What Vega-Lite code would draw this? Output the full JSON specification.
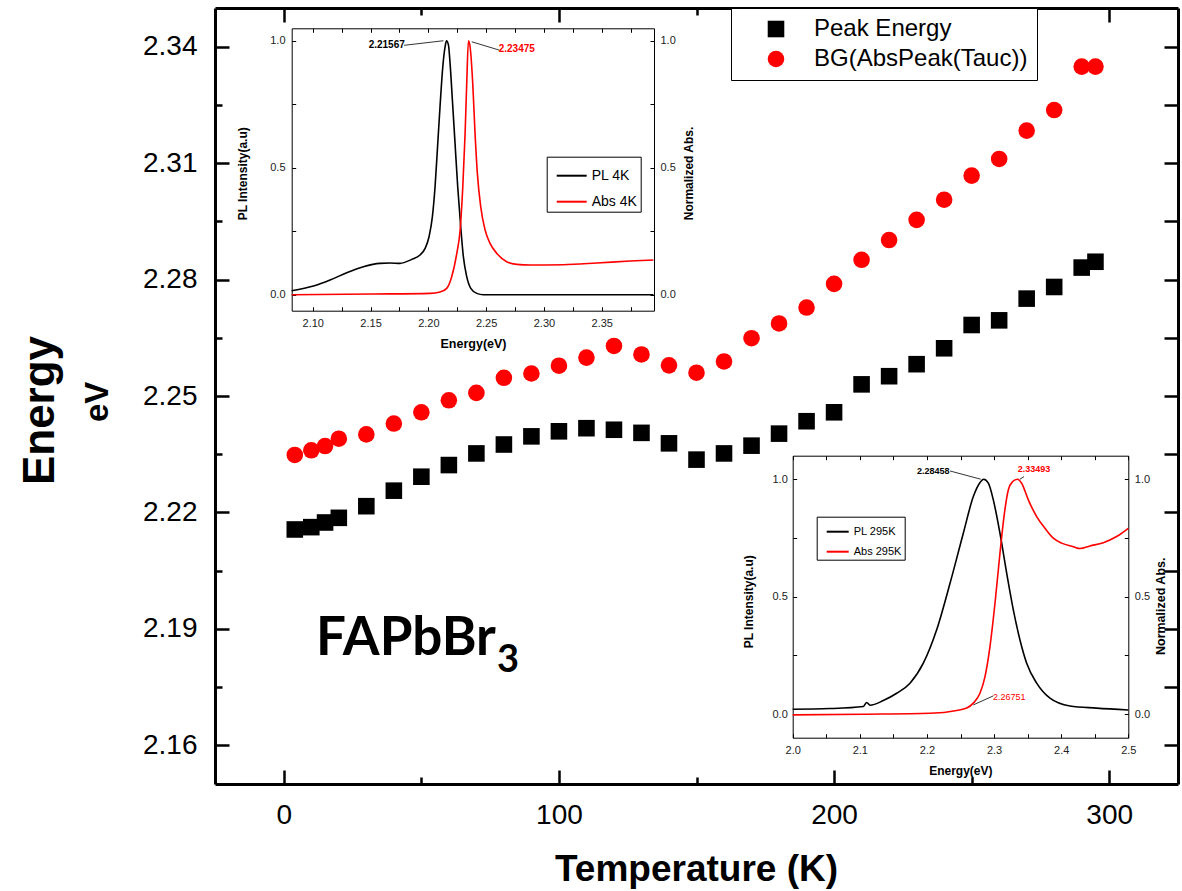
{
"$schema":"https://vega.github.io/schema/vega-lite/v6.json",
"width":963,"height":776,
"autosize":{"type":"none"},
"padding":{"left":215,"top":8,"right":4,"bottom":107},
"config":{"view":{"stroke":null},"font":"Liberation Sans","axis":{"grid":false,"labelFlush":false,"labelOverlap":false,"domainColor":"black","tickColor":"black","labelColor":"black","titleColor":"black"}},
"datasets":{
"main":[
{"series":"Peak Energy","T":4,"E":2.2156},{"series":"Peak Energy","T":10,"E":2.2162},{"series":"Peak Energy","T":15,"E":2.2174},{"series":"Peak Energy","T":20,"E":2.2186},{"series":"Peak Energy","T":30,"E":2.2216},{"series":"Peak Energy","T":40,"E":2.2256},{"series":"Peak Energy","T":50,"E":2.2292},{"series":"Peak Energy","T":60,"E":2.2322},{"series":"Peak Energy","T":70,"E":2.2352},{"series":"Peak Energy","T":80,"E":2.2375},{"series":"Peak Energy","T":90,"E":2.2396},{"series":"Peak Energy","T":100,"E":2.2409},{"series":"Peak Energy","T":110,"E":2.2417},{"series":"Peak Energy","T":120,"E":2.2413},{"series":"Peak Energy","T":130,"E":2.2405},{"series":"Peak Energy","T":140,"E":2.2378},{"series":"Peak Energy","T":150,"E":2.2336},{"series":"Peak Energy","T":160,"E":2.2352},{"series":"Peak Energy","T":170,"E":2.2372},{"series":"Peak Energy","T":180,"E":2.2403},{"series":"Peak Energy","T":190,"E":2.2435},{"series":"Peak Energy","T":200,"E":2.2458},{"series":"Peak Energy","T":210,"E":2.2530},{"series":"Peak Energy","T":220,"E":2.2551},{"series":"Peak Energy","T":230,"E":2.2582},{"series":"Peak Energy","T":240,"E":2.2623},{"series":"Peak Energy","T":250,"E":2.2683},{"series":"Peak Energy","T":260,"E":2.2695},{"series":"Peak Energy","T":270,"E":2.2751},{"series":"Peak Energy","T":280,"E":2.2781},{"series":"Peak Energy","T":290,"E":2.2831},{"series":"Peak Energy","T":295,"E":2.2846},
{"series":"BG(AbsPeak(Tauc))","T":4,"E":2.2348},{"series":"BG(AbsPeak(Tauc))","T":10,"E":2.2360},{"series":"BG(AbsPeak(Tauc))","T":15,"E":2.2371},{"series":"BG(AbsPeak(Tauc))","T":20,"E":2.2390},{"series":"BG(AbsPeak(Tauc))","T":30,"E":2.2401},{"series":"BG(AbsPeak(Tauc))","T":40,"E":2.2429},{"series":"BG(AbsPeak(Tauc))","T":50,"E":2.2458},{"series":"BG(AbsPeak(Tauc))","T":60,"E":2.2489},{"series":"BG(AbsPeak(Tauc))","T":70,"E":2.2508},{"series":"BG(AbsPeak(Tauc))","T":80,"E":2.2547},{"series":"BG(AbsPeak(Tauc))","T":90,"E":2.2558},{"series":"BG(AbsPeak(Tauc))","T":100,"E":2.2578},{"series":"BG(AbsPeak(Tauc))","T":110,"E":2.2599},{"series":"BG(AbsPeak(Tauc))","T":120,"E":2.2629},{"series":"BG(AbsPeak(Tauc))","T":130,"E":2.2607},{"series":"BG(AbsPeak(Tauc))","T":140,"E":2.2579},{"series":"BG(AbsPeak(Tauc))","T":150,"E":2.2560},{"series":"BG(AbsPeak(Tauc))","T":160,"E":2.2589},{"series":"BG(AbsPeak(Tauc))","T":170,"E":2.2649},{"series":"BG(AbsPeak(Tauc))","T":180,"E":2.2687},{"series":"BG(AbsPeak(Tauc))","T":190,"E":2.2728},{"series":"BG(AbsPeak(Tauc))","T":200,"E":2.2789},{"series":"BG(AbsPeak(Tauc))","T":210,"E":2.2851},{"series":"BG(AbsPeak(Tauc))","T":220,"E":2.2902},{"series":"BG(AbsPeak(Tauc))","T":230,"E":2.2954},{"series":"BG(AbsPeak(Tauc))","T":240,"E":2.3006},{"series":"BG(AbsPeak(Tauc))","T":250,"E":2.3068},{"series":"BG(AbsPeak(Tauc))","T":260,"E":2.3111},{"series":"BG(AbsPeak(Tauc))","T":270,"E":2.3184},{"series":"BG(AbsPeak(Tauc))","T":280,"E":2.3237},{"series":"BG(AbsPeak(Tauc))","T":290,"E":2.3349},{"series":"BG(AbsPeak(Tauc))","T":295,"E":2.3349}
],
"in1":[
{"s":"PL 4K","E":2.0818,"v":0.0157},{"s":"PL 4K","E":2.1006,"v":0.0341},{"s":"PL 4K","E":2.1150,"v":0.0577},{"s":"PL 4K","E":2.1294,"v":0.0866},{"s":"PL 4K","E":2.1438,"v":0.1102},{"s":"PL 4K","E":2.1582,"v":0.1234},{"s":"PL 4K","E":2.1669,"v":0.1247},{"s":"PL 4K","E":2.1755,"v":0.1234},{"s":"PL 4K","E":2.1856,"v":0.1391},{"s":"PL 4K","E":2.1928,"v":0.1562},{"s":"PL 4K","E":2.1972,"v":0.1824},{"s":"PL 4K","E":2.2006,"v":0.2283},{"s":"PL 4K","E":2.2035,"v":0.3071},{"s":"PL 4K","E":2.2058,"v":0.4252},{"s":"PL 4K","E":2.2078,"v":0.5696},{"s":"PL 4K","E":2.2101,"v":0.7402},{"s":"PL 4K","E":2.2125,"v":0.8976},{"s":"PL 4K","E":2.2145,"v":0.9764},{"s":"PL 4K","E":2.2157,"v":1.0},{"s":"PL 4K","E":2.2174,"v":0.9829},{"s":"PL 4K","E":2.2188,"v":0.9108},{"s":"PL 4K","E":2.2208,"v":0.7664},{"s":"PL 4K","E":2.2231,"v":0.5958},{"s":"PL 4K","E":2.2254,"v":0.4252},{"s":"PL 4K","E":2.2280,"v":0.2677},{"s":"PL 4K","E":2.2303,"v":0.1496},{"s":"PL 4K","E":2.2332,"v":0.0709},{"s":"PL 4K","E":2.2367,"v":0.0249},{"s":"PL 4K","E":2.2419,"v":0.0052},{"s":"PL 4K","E":2.2476,"v":0.0},{"s":"PL 4K","E":2.3947,"v":0.0},
{"s":"Abs 4K","E":2.0818,"v":0.0},{"s":"Abs 4K","E":2.1525,"v":0.0026},{"s":"Abs 4K","E":2.2015,"v":0.0052},{"s":"Abs 4K","E":2.2101,"v":0.0105},{"s":"Abs 4K","E":2.2159,"v":0.0249},{"s":"Abs 4K","E":2.2202,"v":0.0709},{"s":"Abs 4K","E":2.2246,"v":0.1627},{"s":"Abs 4K","E":2.2275,"v":0.2546},{"s":"Abs 4K","E":2.2298,"v":0.4252},{"s":"Abs 4K","E":2.2318,"v":0.6352},{"s":"Abs 4K","E":2.2332,"v":0.8320},{"s":"Abs 4K","E":2.2347,"v":1.0},{"s":"Abs 4K","E":2.2361,"v":0.9764},{"s":"Abs 4K","E":2.2384,"v":0.8320},{"s":"Abs 4K","E":2.2404,"v":0.6352},{"s":"Abs 4K","E":2.2424,"v":0.4777},{"s":"Abs 4K","E":2.2453,"v":0.3465},{"s":"Abs 4K","E":2.2491,"v":0.2546},{"s":"Abs 4K","E":2.2534,"v":0.2021},{"s":"Abs 4K","E":2.2592,"v":0.1627},{"s":"Abs 4K","E":2.2678,"v":0.1299},{"s":"Abs 4K","E":2.2765,"v":0.1194},{"s":"Abs 4K","E":2.2880,"v":0.1168},{"s":"Abs 4K","E":2.3168,"v":0.1181},{"s":"Abs 4K","E":2.3457,"v":0.1247},{"s":"Abs 4K","E":2.3745,"v":0.1325},{"s":"Abs 4K","E":2.3947,"v":0.1365}
],
"ann1":[
{"s":"PL 4K","label":"2.21567","tx":2.164,"ty":0.983,"E1":2.179,"v1":0.982,"E2":2.213,"v2":1.0},
{"s":"Abs 4K","label":"2.23475","tx":2.2765,"ty":0.9685,"E1":2.2375,"v1":0.996,"E2":2.2614,"v2":0.963}
],
"in2":[
{"s":"PL 295K","E":2.0,"v":0.021},{"s":"PL 295K","E":2.0556,"v":0.024},{"s":"PL 295K","E":2.1053,"v":0.033},{"s":"PL 295K","E":2.1102,"v":0.050},{"s":"PL 295K","E":2.1152,"v":0.038},{"s":"PL 295K","E":2.135,"v":0.058},{"s":"PL 295K","E":2.1549,"v":0.089},{"s":"PL 295K","E":2.1748,"v":0.132},{"s":"PL 295K","E":2.1946,"v":0.217},{"s":"PL 295K","E":2.2145,"v":0.359},{"s":"PL 295K","E":2.2344,"v":0.557},{"s":"PL 295K","E":2.2542,"v":0.770},{"s":"PL 295K","E":2.2691,"v":0.926},{"s":"PL 295K","E":2.2791,"v":0.986},{"s":"PL 295K","E":2.2846,"v":1.0},{"s":"PL 295K","E":2.2915,"v":0.983},{"s":"PL 295K","E":2.2989,"v":0.912},{"s":"PL 295K","E":2.3088,"v":0.770},{"s":"PL 295K","E":2.3188,"v":0.600},{"s":"PL 295K","E":2.3287,"v":0.444},{"s":"PL 295K","E":2.3386,"v":0.316},{"s":"PL 295K","E":2.3486,"v":0.217},{"s":"PL 295K","E":2.3635,"v":0.132},{"s":"PL 295K","E":2.3833,"v":0.068},{"s":"PL 295K","E":2.4131,"v":0.035},{"s":"PL 295K","E":2.4528,"v":0.026},{"s":"PL 295K","E":2.5,"v":0.018},
{"s":"Abs 295K","E":2.0,"v":-0.003},{"s":"Abs 295K","E":2.1053,"v":0.0},{"s":"Abs 295K","E":2.2046,"v":0.004},{"s":"Abs 295K","E":2.2443,"v":0.016},{"s":"Abs 295K","E":2.2592,"v":0.026},{"s":"Abs 295K","E":2.2691,"v":0.047},{"s":"Abs 295K","E":2.279,"v":0.089},{"s":"Abs 295K","E":2.2865,"v":0.160},{"s":"Abs 295K","E":2.2939,"v":0.288},{"s":"Abs 295K","E":2.3014,"v":0.472},{"s":"Abs 295K","E":2.3088,"v":0.685},{"s":"Abs 295K","E":2.3148,"v":0.841},{"s":"Abs 295K","E":2.3213,"v":0.955},{"s":"Abs 295K","E":2.3277,"v":0.990},{"s":"Abs 295K","E":2.3349,"v":1.0},{"s":"Abs 295K","E":2.3411,"v":0.983},{"s":"Abs 295K","E":2.351,"v":0.912},{"s":"Abs 295K","E":2.3635,"v":0.841},{"s":"Abs 295K","E":2.3759,"v":0.791},{"s":"Abs 295K","E":2.3883,"v":0.749},{"s":"Abs 295K","E":2.4007,"v":0.728},{"s":"Abs 295K","E":2.4181,"v":0.713},{"s":"Abs 295K","E":2.428,"v":0.705},{"s":"Abs 295K","E":2.4429,"v":0.716},{"s":"Abs 295K","E":2.4628,"v":0.730},{"s":"Abs 295K","E":2.4826,"v":0.756},{"s":"Abs 295K","E":2.5,"v":0.791}
],
"ann2":[
{"s":"PL 295K","label":"2.28458","tx":2.2095,"ty":1.0366,"E1":2.2344,"v1":1.035,"E2":2.2801,"v2":1.0},
{"s":"Abs 295K","label":"2.33493","tx":2.3595,"ty":1.0426,"E1":2.3387,"v1":1.0,"E2":2.3446,"v2":1.011}
],
"ann2b":[
{"s":"Abs 295K","label":"2.26751","tx":2.3227,"ty":0.0749,"E1":2.2691,"v1":0.0396,"E2":2.2989,"v2":0.078}
]
},
"layer":[
{
"layer":[
{"data":{"name":"main"},
"mark":{"type":"point","filled":true,"size":275,"opacity":1},
"encoding":{
"x":{"field":"T","type":"quantitative","scale":{"domain":[-25,325],"nice":false,"zero":false},
"axis":{"orient":"bottom","values":[0,50,100,150,200,250,300],"labelExpr":"datum.value % 100 === 0 ? format(datum.value, 'd') : ''","tickSize":{"condition":{"test":"datum.value % 100 === 0","value":-14},"value":-7},"tickWidth":2.5,"domainWidth":3,"labelFontSize":28,"labelPadding":31,"labelFont":"Liberation Sans","title":"Temperature (K)","titleFont":"Liberation Sans","titleFontSize":37,"titleFontWeight":"bold","titleX":481,"titleY":85,"titleBaseline":"middle","titleAlign":"center"}},
"y":{"field":"E","type":"quantitative","scale":{"domain":[2.15,2.35],"nice":false,"zero":false},
"axis":{"orient":"left","values":[2.16,2.175,2.19,2.205,2.22,2.235,2.25,2.265,2.28,2.295,2.31,2.325,2.34],"labelExpr":"round(datum.value*1000) % 30 === 0 ? format(datum.value, '.2f') : ''","tickSize":{"condition":{"test":"round(datum.value*1000) % 30 === 0","value":-14},"value":-7},"tickWidth":2.5,"domainWidth":3,"labelFontSize":28,"labelPadding":32,"labelFont":"Liberation Sans","title":"Energy","titleFont":"Liberation Sans","titleFontSize":44,"titleFontWeight":"bold","titleX":-175,"titleY":402,"titleAngle":270,"titleBaseline":"middle","titleAlign":"center"}},
"color":{"field":"series","type":"nominal","scale":{"domain":["Peak Energy","BG(AbsPeak(Tauc))"],"range":["#000000","#ff0000"]},
"legend":{"orient":"none","legendX":516,"legendY":0,"title":null,"strokeColor":"black","fillColor":"white","padding":9,"labelFontSize":24,"labelFont":"Liberation Sans","labelColor":"black","labelLimit":500,"symbolSize":275,"symbolOffset":24,"labelOffset":26,"rowPadding":6,"symbolStrokeWidth":0}},
"shape":{"field":"series","type":"nominal","scale":{"domain":["Peak Energy","BG(AbsPeak(Tauc))"],"range":["square","circle"]},
"legend":{"orient":"none","legendX":516,"legendY":0,"title":null,"strokeColor":"black","fillColor":"white","padding":9,"labelFontSize":24,"labelFont":"Liberation Sans","labelColor":"black","labelLimit":500,"symbolSize":275,"symbolOffset":24,"labelOffset":26,"rowPadding":6,"symbolStrokeWidth":0}}
}},
{"data":{"values":[{"T":11.7,"E":2.1833,"t":"FAPbBr"}]},
"mark":{"type":"text","font":"Lato","fontWeight":"bold","fontSize":53,"align":"left","baseline":"alphabetic","color":"black"},
"encoding":{
"x":{"field":"T","type":"quantitative","scale":{"domain":[-25,325],"nice":false,"zero":false},
"axis":{"orient":"top","values":[0,50,100,150,200,250,300],"labels":false,"tickSize":{"condition":{"test":"datum.value % 100 === 0","value":-14},"value":-7},"tickWidth":2.5,"domainWidth":3,"title":null}},
"y":{"field":"E","type":"quantitative","scale":{"domain":[2.15,2.35],"nice":false,"zero":false},
"axis":{"orient":"right","values":[2.16,2.175,2.19,2.205,2.22,2.235,2.25,2.265,2.28,2.295,2.31,2.325,2.34],"labels":false,"tickSize":-14,"tickWidth":2.5,"domainWidth":3,"title":null}},
"text":{"field":"t"}}},
{"data":{"values":[{"T":77.5,"E":2.1789,"t":"3"}]},
"mark":{"type":"text","font":"Lato","fontWeight":"bold","fontSize":38,"align":"left","baseline":"alphabetic","color":"black"},
"encoding":{
"x":{"field":"T","type":"quantitative","scale":{"domain":[-25,325],"nice":false,"zero":false},"axis":null},
"y":{"field":"E","type":"quantitative","scale":{"domain":[2.15,2.35],"nice":false,"zero":false},"axis":null},
"text":{"field":"t"}}},
{"data":{"values":[{"T":-67.7,"E":2.2485,"t":"eV"}]},
"mark":{"type":"text","font":"Liberation Sans","fontWeight":"bold","fontSize":33,"align":"center","baseline":"middle","angle":270,"color":"black"},
"encoding":{
"x":{"field":"T","type":"quantitative","scale":{"domain":[-25,325],"nice":false,"zero":false},"axis":null},
"y":{"field":"E","type":"quantitative","scale":{"domain":[2.15,2.35],"nice":false,"zero":false},"axis":null},
"text":{"field":"t"}}}
],
"resolve":{"axis":{"x":"independent","y":"independent"}}
},
{
"layer":[
{"data":{"name":"in1"},
"mark":{"type":"line","strokeWidth":1.6,"interpolate":"monotone"},
"encoding":{
"x":{"field":"E","type":"quantitative","scale":{"domain":[2.0818,2.3952],"range":[76.7,439],"nice":false,"zero":false},
"axis":{"orient":"bottom","offset":-473.3,"values":[2.1,2.125,2.15,2.175,2.2,2.225,2.25,2.275,2.3,2.325,2.35,2.375],"labelExpr":"round(datum.value*1000) % 50 === 0 ? format(datum.value, '.2f') : ''","tickSize":-4,"tickWidth":1,"domainWidth":1,"labelFontSize":11,"labelColor":"#222222","labelPadding":11,"title":"Energy(eV)","titleFont":"Liberation Sans","titleFontSize":12.5,"titleFontWeight":"bold","titleX":258,"titleY":32.3,"titleBaseline":"middle","titleAlign":"center"}},
"y":{"field":"v","type":"quantitative","scale":{"domain":[-0.063,1.049],"range":[302.7,20.3],"nice":false,"zero":false},
"axis":{"orient":"left","offset":-76.7,"values":[0,0.25,0.5,0.75,1],"labelExpr":"round(datum.value*100) % 50 === 0 ? format(datum.value, '.1f') : ''","tickSize":-4,"tickWidth":1,"domainWidth":1,"labelFontSize":11,"labelColor":"#222222","labelPadding":10.7,"title":"PL Intensity(a.u)","titleFont":"Liberation Sans","titleFontSize":12,"titleFontWeight":"bold","titleX":-49.1,"titleY":165.3,"titleAngle":270,"titleBaseline":"middle","titleAlign":"center"}},
"color":{"field":"s","type":"nominal","scale":{"domain":["PL 4K","Abs 4K"],"range":["#000000","#ff0000"]},
"legend":{"orient":"none","legendX":331.7,"legendY":148.7,"title":null,"strokeColor":"black","fillColor":"white","padding":3,"symbolType":"stroke","symbolSize":900,"symbolStrokeWidth":2,"labelFontSize":14,"labelFont":"Liberation Sans","labelColor":"black","rowPadding":3,"symbolOffset":6,"labelOffset":4}}
}},
{"data":{"name":"ann1"},
"mark":{"type":"rule","color":"black","strokeWidth":0.8},
"encoding":{
"x":{"field":"E1","type":"quantitative","scale":{"domain":[2.0818,2.3952],"range":[76.7,439],"nice":false,"zero":false},
"axis":{"orient":"top","offset":-20.3,"values":[2.1,2.125,2.15,2.175,2.2,2.225,2.25,2.275,2.3,2.325,2.35,2.375],"labels":false,"tickSize":-4,"tickWidth":1,"domainWidth":1,"title":null}},
"x2":{"field":"E2"},
"y":{"field":"v1","type":"quantitative","scale":{"domain":[-0.063,1.049],"range":[302.7,20.3],"nice":false,"zero":false},
"axis":{"orient":"right","offset":-524,"values":[0,0.25,0.5,0.75,1],"labelExpr":"round(datum.value*100) % 50 === 0 ? format(datum.value, '.1f') : ''","tickSize":-4,"tickWidth":1,"domainWidth":1,"labelFontSize":11,"labelColor":"#222222","labelPadding":10,"title":"Normalized Abs.","titleFont":"Liberation Sans","titleFontSize":12,"titleFontWeight":"bold","titleX":34,"titleY":165,"titleAngle":270,"titleBaseline":"middle","titleAlign":"center"}},
"y2":{"field":"v2"}}},
{"data":{"name":"ann1"},
"mark":{"type":"text","fontWeight":"bold","fontSize":10,"font":"Liberation Sans","align":"center","baseline":"middle"},
"encoding":{
"x":{"field":"tx","type":"quantitative","scale":{"domain":[2.0818,2.3952],"range":[76.7,439],"nice":false,"zero":false},"axis":null},
"y":{"field":"ty","type":"quantitative","scale":{"domain":[-0.063,1.049],"range":[302.7,20.3],"nice":false,"zero":false},"axis":null},
"text":{"field":"label"},
"color":{"field":"s","type":"nominal","scale":{"domain":["PL 4K","Abs 4K"],"range":["#000000","#ff0000"]}}}}
],
"resolve":{"axis":{"x":"independent","y":"independent"}}
},
{
"layer":[
{"data":{"name":"in2"},
"mark":{"type":"line","strokeWidth":1.6,"interpolate":"monotone"},
"encoding":{
"x":{"field":"E","type":"quantitative","scale":{"domain":[2.0,2.5],"range":[577.7,913.3],"nice":false,"zero":false},
"axis":{"orient":"bottom","offset":-46.3,"values":[2.0,2.05,2.1,2.15,2.2,2.25,2.3,2.35,2.4,2.45,2.5],"labelExpr":"round(datum.value*100) % 10 === 0 ? format(datum.value, '.1f') : ''","tickSize":-4,"tickWidth":1,"domainWidth":1,"labelFontSize":11,"labelColor":"#222222","labelPadding":11,"title":"Energy(eV)","titleFont":"Liberation Sans","titleFontSize":12,"titleFontWeight":"bold","titleX":745.3,"titleY":33,"titleBaseline":"middle","titleAlign":"center"}},
"y":{"field":"v","type":"quantitative","scale":{"domain":[-0.1,1.1],"range":[729.7,447.7],"nice":false,"zero":false},
"axis":{"orient":"left","offset":-577.7,"values":[0,0.25,0.5,0.75,1],"labelExpr":"round(datum.value*100) % 50 === 0 ? format(datum.value, '.1f') : ''","tickSize":-4,"tickWidth":1,"domainWidth":1,"labelFontSize":11,"labelColor":"#222222","labelPadding":9.4,"title":"PL Intensity(a.u)","titleFont":"Liberation Sans","titleFontSize":12,"titleFontWeight":"bold","titleX":-44.4,"titleY":593.3,"titleAngle":270,"titleBaseline":"middle","titleAlign":"center"}},
"color":{"field":"s","type":"nominal","scale":{"domain":["PL 295K","Abs 295K"],"range":["#000000","#ff0000"]},
"legend":{"orient":"none","legendX":601.7,"legendY":508.7,"title":null,"strokeColor":"black","fillColor":"white","padding":3,"symbolType":"stroke","symbolSize":484,"symbolStrokeWidth":2,"labelFontSize":11,"labelFont":"Liberation Sans","labelColor":"black","rowPadding":3,"symbolOffset":6,"labelOffset":4}}
}},
{"data":{"name":"ann2"},
"mark":{"type":"rule","color":"black","strokeWidth":0.8},
"encoding":{
"x":{"field":"E1","type":"quantitative","scale":{"domain":[2.0,2.5],"range":[577.7,913.3],"nice":false,"zero":false},
"axis":{"orient":"top","offset":-447.7,"values":[2.0,2.05,2.1,2.15,2.2,2.25,2.3,2.35,2.4,2.45,2.5],"labels":false,"tickSize":-4,"tickWidth":1,"domainWidth":1,"title":null}},
"x2":{"field":"E2"},
"y":{"field":"v1","type":"quantitative","scale":{"domain":[-0.1,1.1],"range":[729.7,447.7],"nice":false,"zero":false},
"axis":{"orient":"right","offset":-49.7,"values":[0,0.25,0.5,0.75,1],"labelExpr":"round(datum.value*100) % 50 === 0 ? format(datum.value, '.1f') : ''","tickSize":-4,"tickWidth":1,"domainWidth":1,"labelFontSize":11,"labelColor":"#222222","labelPadding":10,"title":"Normalized Abs.","titleFont":"Liberation Sans","titleFontSize":12.5,"titleFontWeight":"bold","titleX":31.7,"titleY":597.8,"titleAngle":270,"titleBaseline":"middle","titleAlign":"center"}},
"y2":{"field":"v2"}}},
{"data":{"name":"ann2b"},
"mark":{"type":"rule","color":"black","strokeWidth":0.8},
"encoding":{
"x":{"field":"E1","type":"quantitative","scale":{"domain":[2.0,2.5],"range":[577.7,913.3],"nice":false,"zero":false},"axis":null},
"x2":{"field":"E2"},
"y":{"field":"v1","type":"quantitative","scale":{"domain":[-0.1,1.1],"range":[729.7,447.7],"nice":false,"zero":false},"axis":null},
"y2":{"field":"v2"}}},
{"data":{"name":"ann2"},
"mark":{"type":"text","fontWeight":"bold","fontSize":9,"font":"Liberation Sans","align":"center","baseline":"middle"},
"encoding":{
"x":{"field":"tx","type":"quantitative","scale":{"domain":[2.0,2.5],"range":[577.7,913.3],"nice":false,"zero":false},"axis":null},
"y":{"field":"ty","type":"quantitative","scale":{"domain":[-0.1,1.1],"range":[729.7,447.7],"nice":false,"zero":false},"axis":null},
"text":{"field":"label"},
"color":{"field":"s","type":"nominal","scale":{"domain":["PL 295K","Abs 295K"],"range":["#000000","#ff0000"]}}}},
{"data":{"name":"ann2b"},
"mark":{"type":"text","fontSize":9,"font":"Liberation Sans","align":"center","baseline":"middle"},
"encoding":{
"x":{"field":"tx","type":"quantitative","scale":{"domain":[2.0,2.5],"range":[577.7,913.3],"nice":false,"zero":false},"axis":null},
"y":{"field":"ty","type":"quantitative","scale":{"domain":[-0.1,1.1],"range":[729.7,447.7],"nice":false,"zero":false},"axis":null},
"text":{"field":"label"},
"color":{"field":"s","type":"nominal","scale":{"domain":["PL 295K","Abs 295K"],"range":["#000000","#ff0000"]}}}}
],
"resolve":{"axis":{"x":"independent","y":"independent"}}
}
],
"resolve":{"scale":{"x":"independent","y":"independent","color":"independent","shape":"independent"},"axis":{"x":"independent","y":"independent"},"legend":{"color":"independent","shape":"independent"}}
}
